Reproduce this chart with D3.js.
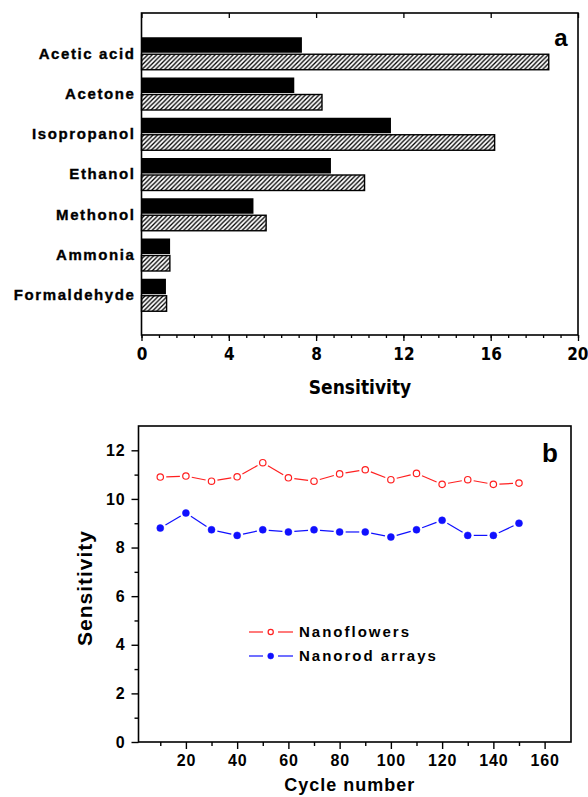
<!DOCTYPE html>
<html>
<head>
<meta charset="utf-8">
<script src="https://cdn.jsdelivr.net/npm/d3@7"></script>
<style>
  body { margin: 0; background: #fff; }
  svg { display: block; }
  .cat { font: bold 15px "Liberation Sans", Arial, sans-serif; letter-spacing: 1.6px; stroke: #000; stroke-width: 0.35px; }
  .tka { font: bold 17px "DejaVu Sans Condensed", "DejaVu Sans", sans-serif; }
  .tkb { font: bold 16px "Liberation Sans", Arial, sans-serif; letter-spacing: 0.8px; }
  .ttl { font: bold 19px "DejaVu Sans Condensed", "DejaVu Sans", sans-serif; }
  .ttlb { font: bold 18px "Liberation Sans", Arial, sans-serif; letter-spacing: 1px; }
  .leg { font: bold 15px "Liberation Sans", Arial, sans-serif; letter-spacing: 2px; }
  .panel { font: bold 24px "Liberation Sans", Arial, sans-serif; }
</style>
</head>
<body>
<svg id="chart" width="588" height="797"></svg>
<script>
// panel a
const gases = ["Acetic acid", "Acetone", "Isopropanol", "Ethanol", "Methonol", "Ammonia", "Formaldehyde"];
const solidVals = [7.35, 7.0, 11.43, 8.68, 5.13, 1.31, 1.12];
const hatchVals = [18.66, 8.27, 16.18, 10.22, 5.71, 1.3, 1.15];
const sensTicks = [0, 4, 8, 12, 16, 20];

// panel b
const cycles = [10, 20, 30, 40, 50, 60, 70, 80, 90, 100, 110, 120, 130, 140, 150];
const flowers = [10.9, 10.94, 10.73, 10.91, 11.49, 10.87, 10.73, 11.03, 11.2, 10.79, 11.05, 10.6, 10.79, 10.6, 10.65];
const rods = [8.8, 9.42, 8.73, 8.5, 8.73, 8.64, 8.73, 8.64, 8.64, 8.43, 8.73, 9.12, 8.5, 8.5, 9.0];
const cycleTicks = [20, 40, 60, 80, 100, 120, 140, 160];
const sensTicksB = [0, 2, 4, 6, 8, 10, 12];

const svg = d3.select("#chart");

svg.append("defs").append("pattern")
  .attr("id", "hatch")
  .attr("patternUnits", "userSpaceOnUse")
  .attr("width", 4.5).attr("height", 4.5)
  .call(p => {
    p.append("rect").attr("width", 4.5).attr("height", 4.5).attr("fill", "#fff");
    p.append("path").attr("d", "M-1,5.5 L5.5,-1 M-1,1 L1,-1 M3.5,5.5 L5.5,3.5")
      .attr("stroke", "#000").attr("stroke-width", 1.3);
  });

/* ---------- panel a ---------- */
const A = { left: 141.5, right: 578, top: 13, bottom: 335 };

const xa = d3.scaleLinear().domain([0, 20]).range([A.left, A.right]);
const ya = d3.scalePoint().domain(gases).range([A.top, A.bottom]).padding(1);

const ga = svg.append("g");
const BAR_H = 15.5;

ga.selectAll("rect.solid")
  .data(gases)
  .join("rect")
  .attr("x", xa(0))
  .attr("y", d => ya(d) - BAR_H - 0.5)
  .attr("width", (d, i) => xa(solidVals[i]) - xa(0))
  .attr("height", BAR_H)
  .attr("fill", "#000");

ga.selectAll("rect.hatch")
  .data(gases)
  .join("rect")
  .attr("x", xa(0))
  .attr("y", d => ya(d) + 1)
  .attr("width", (d, i) => xa(hatchVals[i]) - xa(0))
  .attr("height", BAR_H)
  .attr("fill", "url(#hatch)")
  .attr("stroke", "#000")
  .attr("stroke-width", 1.4);

ga.selectAll("text.cat")
  .data(gases)
  .join("text")
  .attr("class", "cat")
  .attr("x", A.left - 6)
  .attr("y", d => ya(d))
  .attr("dy", "0.36em")
  .attr("text-anchor", "end")
  .text(d => d);

const minorA = d3.range(0, 20.01, 0.8);

ga.append("g")
  .attr("transform", `translate(0,${A.bottom})`)
  .call(d3.axisBottom(xa).tickValues(minorA).tickSize(3).tickFormat(""))
  .call(g => g.select(".domain").remove());
ga.append("g")
  .attr("class", "tka")
  .attr("transform", `translate(0,${A.bottom})`)
  .call(d3.axisBottom(xa).tickValues(sensTicks).tickSize(6).tickPadding(7).tickFormat(d3.format("d")))
  .call(g => g.select(".domain").remove())
  .call(g => g.selectAll("text").attr("fill", "#000").style("font", null))
  // keep the last label inside the window
  .call(g => g.selectAll("text").filter(d => d === 20).attr("text-anchor", "end").attr("dx", 10));
ga.append("g")
  .attr("transform", `translate(0,${A.top})`)
  .call(d3.axisBottom(xa).tickValues(minorA).tickSize(3).tickFormat(""))
  .call(d3.axisBottom(xa).tickValues(sensTicks).tickSize(5).tickFormat(""))
  .call(g => g.select(".domain").remove());

ga.append("rect")
  .attr("x", A.left).attr("y", A.top)
  .attr("width", A.right - A.left).attr("height", A.bottom - A.top)
  .attr("fill", "none").attr("stroke", "#000").attr("stroke-width", 1.6);

ga.append("text").attr("class", "ttl")
  .attr("x", 360).attr("y", 394)
  .attr("text-anchor", "middle").text("Sensitivity");

ga.append("text").attr("class", "panel")
  .attr("x", 561).attr("y", 46).attr("text-anchor", "middle").text("a");

/* ---------- panel b ---------- */
const B = { left: 138.5, right: 571, top: 426, bottom: 742 };

const xb = d3.scaleLinear().domain([1.5, 170.3]).range([B.left, B.right]);
const yb = d3.scaleLinear().domain([0, 13]).range([B.bottom, B.top]);

const gb = svg.append("g");

gb.append("rect")
  .attr("x", B.left).attr("y", B.top)
  .attr("width", B.right - B.left).attr("height", B.bottom - B.top)
  .attr("fill", "none").attr("stroke", "#000").attr("stroke-width", 1.6);

gb.append("g")
  .attr("transform", `translate(0,${B.bottom})`)
  .call(d3.axisBottom(xb).tickValues(d3.range(10, 170, 20)).tickSize(4).tickFormat(""))
  .call(g => g.select(".domain").remove());
gb.append("g")
  .attr("class", "tkb")
  .attr("transform", `translate(0,${B.bottom})`)
  .call(d3.axisBottom(xb).tickValues(cycleTicks).tickSize(7).tickPadding(6).tickFormat(d3.format("d")))
  .call(g => g.select(".domain").remove())
  .call(g => g.selectAll("text").attr("fill", "#000").style("font", null));

gb.append("g")
  .attr("transform", `translate(${B.left},0)`)
  .call(d3.axisLeft(yb).tickValues(d3.range(1, 13, 2)).tickSize(4).tickFormat(""))
  .call(g => g.select(".domain").remove());
gb.append("g")
  .attr("class", "tkb")
  .attr("transform", `translate(${B.left},0)`)
  .call(d3.axisLeft(yb).tickValues(sensTicksB).tickSize(7).tickPadding(6).tickFormat(d3.format("d")))
  .call(g => g.select(".domain").remove())
  .call(g => g.selectAll("text").attr("fill", "#000").style("font", null));

gb.selectAll(".tick line").attr("stroke-width", 1.4);
ga.selectAll(".tick line").attr("stroke-width", 1.3);

/* lines with small gaps at the markers, like Origin draws them */
function gappedSegments(vals, gap) {
  const segs = [];
  for (let i = 0; i < vals.length - 1; i++) {
    const x1 = xb(cycles[i]), y1 = yb(vals[i]);
    const x2 = xb(cycles[i + 1]), y2 = yb(vals[i + 1]);
    const len = Math.hypot(x2 - x1, y2 - y1);
    const ux = (x2 - x1) / len, uy = (y2 - y1) / len;
    segs.push([x1 + ux * gap, y1 + uy * gap, x2 - ux * gap, y2 - uy * gap]);
  }
  return segs;
}

const series = [
  { name: "Nanoflowers", vals: flowers, color: "#ff2020", open: true },
  { name: "Nanorod arrays", vals: rods, color: "#1010ff", open: false },
];

series.forEach(s => {
  gb.append("g").selectAll("line")
    .data(gappedSegments(s.vals, 6))
    .join("line")
    .attr("x1", d => d[0]).attr("y1", d => d[1])
    .attr("x2", d => d[2]).attr("y2", d => d[3])
    .attr("stroke", s.color).attr("stroke-width", 1.2);

  gb.append("g").selectAll("circle")
    .data(s.vals)
    .join("circle")
    .attr("cx", (d, i) => xb(cycles[i]))
    .attr("cy", d => yb(d))
    .attr("r", s.open ? 3.2 : 3.5)
    .attr("fill", s.open ? "#fff" : s.color)
    .attr("stroke", s.color)
    .attr("stroke-width", s.open ? 1.2 : 0.5);
});

/* legend */
const leg = gb.append("g");
series.forEach((s, i) => {
  const y = 632 + i * 24;
  leg.append("line").attr("x1", 249).attr("x2", 263).attr("y1", y).attr("y2", y)
    .attr("stroke", s.color).attr("stroke-width", 1.2);
  leg.append("line").attr("x1", 278).attr("x2", 293).attr("y1", y).attr("y2", y)
    .attr("stroke", s.color).attr("stroke-width", 1.2);
  leg.append("circle").attr("cx", 270.7).attr("cy", y)
    .attr("r", s.open ? 2.6 : 3)
    .attr("fill", s.open ? "#fff" : s.color)
    .attr("stroke", s.color).attr("stroke-width", s.open ? 1.2 : 0.5);
  leg.append("text").attr("class", "leg")
    .attr("x", 299).attr("y", y).attr("dy", "0.36em").text(s.name);
});

gb.append("text").attr("class", "ttlb")
  .attr("x", (B.left + B.right) / 2 - 5).attr("y", 791)
  .attr("text-anchor", "middle").text("Cycle number");

gb.append("text").attr("class", "ttlb")
  .attr("transform", `translate(92,${(B.top + B.bottom) / 2 + 4}) rotate(-90)`)
  .attr("text-anchor", "middle")
  .style("font-size", "21px")
  .text("Sensitivity");

gb.append("text").attr("class", "panel")
  .attr("x", 550).attr("y", 462).attr("text-anchor", "middle")
  .style("font-size", "26px").text("b");
</script>
</body>
</html>
